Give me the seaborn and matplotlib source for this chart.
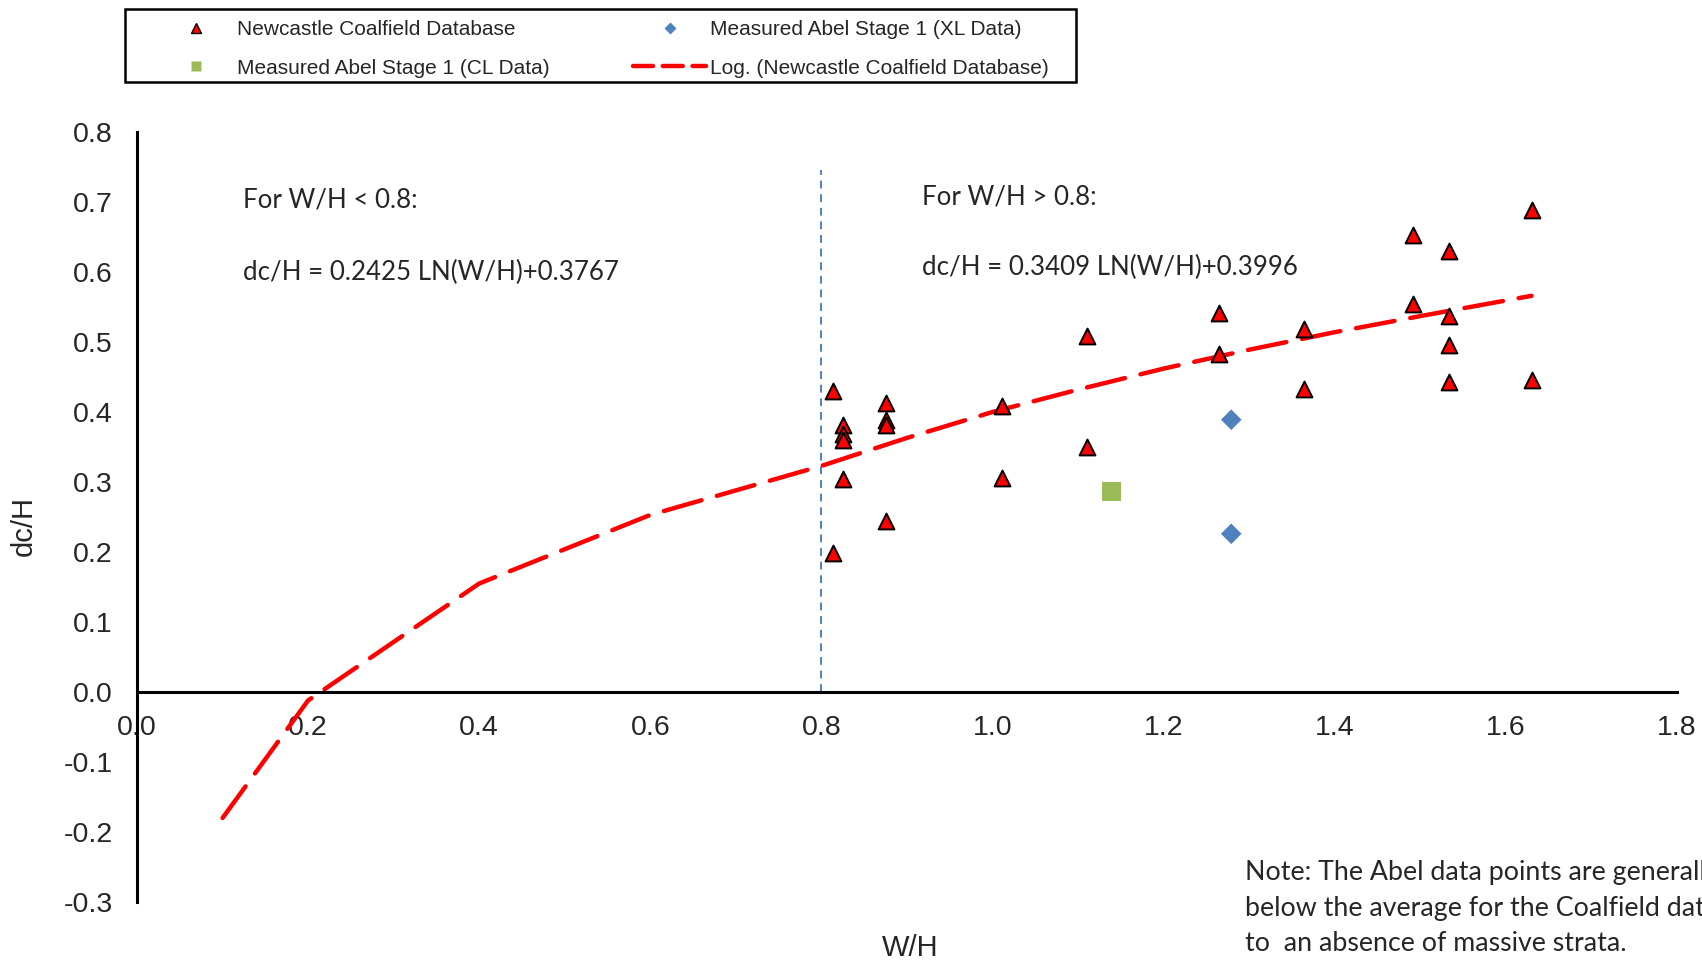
import numpy as np
import pandas as pd
import matplotlib
matplotlib.use("Agg")
import matplotlib.pyplot as plt
from matplotlib.lines import Line2D
from matplotlib.patches import Rectangle
import seaborn as sns

# Newcastle Coalfield Database (W/H, dc/H)
ncd_wh = [0.814, 0.814, 0.825, 0.825, 0.825, 0.825, 0.875, 0.875, 0.875, 0.875,
          1.011, 1.011, 1.110, 1.110, 1.265, 1.265, 1.364, 1.364,
          1.491, 1.491, 1.534, 1.534, 1.534, 1.534, 1.630, 1.630]
ncd_dch = [0.430, 0.198, 0.381, 0.368, 0.360, 0.305, 0.413, 0.388, 0.382, 0.245,
           0.409, 0.306, 0.508, 0.350, 0.542, 0.483, 0.519, 0.433,
           0.653, 0.554, 0.630, 0.537, 0.495, 0.443, 0.689, 0.446]

# Measured Abel Stage 1
xl_wh = [1.279, 1.279]
xl_dch = [0.389, 0.226]
cl_wh = [1.139]
cl_dch = [0.286]

# Log trend line as drawn on the chart
trend_wh = [0.10, 0.20, 0.40, 0.60, 0.80, 0.90, 1.00, 1.10, 1.20, 1.30, 1.40, 1.50, 1.63]
trend_dch = [-0.180, -0.012, 0.155, 0.253, 0.323, 0.363, 0.400, 0.432, 0.462, 0.489, 0.514, 0.537, 0.566]

# W/H = 0.8 divider
divider_wh = [0.8, 0.8]
divider_dch = [0.0, 0.745]

x_ticks = [0.0, 0.2, 0.4, 0.6, 0.8, 1.0, 1.2, 1.4, 1.6, 1.8]
y_ticks = [-0.3, -0.2, -0.1, 0.0, 0.1, 0.2, 0.3, 0.4, 0.5, 0.6, 0.7, 0.8]

legend_labels = ["Newcastle Coalfield Database", "Measured Abel Stage 1 (CL Data)",
                 "Measured Abel Stage 1 (XL Data)", "Log. (Newcastle Coalfield Database)"]
note_lines = ["Note: The Abel data points are generally",
              "below the average for the Coalfield data due",
              "to  an absence of massive strata."]

RED = "#FF0000"
BLUE = "#4F81BD"
GREEN = "#9BBB59"

sns.set_style("white")
plt.rcParams['font.family'] = ['Liberation Sans', 'DejaVu Sans']
plt.rcParams['axes.unicode_minus'] = False

fig = plt.figure(figsize=(17.02, 9.63), dpi=100)
ax = fig.add_axes([137 / 1702, 1 - 902 / 963, 1540 / 1702, 770 / 963])

ncd = pd.DataFrame({"wh": ncd_wh, "dch": ncd_dch})
trend = pd.DataFrame({"wh": trend_wh, "dch": trend_dch})

# divider line
ax.plot(divider_wh, divider_dch, color=BLUE, lw=1.4, dashes=(4, 3), zorder=1)

# trend line
sns.lineplot(data=trend, x="wh", y="dch", color=RED, lw=3.2, errorbar=None,
             sort=False, ax=ax, zorder=2)
tl = ax.lines[-1]
tl.set_dashes((8.8, 3.6))
tl.set_dash_capstyle("round")

# points
sns.scatterplot(data=ncd, x="wh", y="dch", marker="^", s=130, color=RED,
                edgecolor="black", linewidth=1.4, ax=ax, zorder=3)
sns.scatterplot(x=xl_wh, y=xl_dch, marker="D", s=110, color=BLUE,
                edgecolor="none", ax=ax, zorder=3)
sns.scatterplot(x=cl_wh, y=cl_dch, marker="s", s=185, color=GREEN,
                edgecolor="none", ax=ax, zorder=3)

ax.set_xlim(0, 1.8)
ax.set_ylim(-0.3, 0.8)
ax.set_xticks(x_ticks)
ax.set_yticks(y_ticks)
ax.set_xticklabels([f"{v:.1f}" for v in x_ticks])
ax.set_yticklabels([f"{v:.1f}" for v in y_ticks])
ax.tick_params(axis="x", direction="out", length=5, width=2, labelsize=20.5, pad=11.5)
ax.tick_params(axis="y", direction="out", length=6.5, width=2, labelsize=20.5, pad=11)
ax.spines["top"].set_visible(False)
ax.spines["right"].set_visible(False)
ax.spines["bottom"].set_position(("data", 0))
for s in ("left", "bottom"):
    ax.spines[s].set_linewidth(2.2)
    ax.spines[s].set_color("black")

ax.set_xlabel("W/H", fontsize=21)
ax.set_ylabel("dc/H", fontsize=21)
ax.xaxis.set_label_coords((910 - 137) / 1540, (902 - 934) / 770)
ax.yaxis.set_label_coords((38 - 137) / 1540, (902 - 526) / 770)

# equations
eq_font = dict(fontsize=18.6, family=["Lato", "DejaVu Sans"], va="baseline", ha="left")
ax.text(0.124, 0.692, "For W/H < 0.8:", **eq_font)
ax.text(0.124, 0.588, "dc/H = 0.2425 LN(W/H)+0.3767", **eq_font)
ax.text(0.9175, 0.697, "For W/H > 0.8:", **eq_font)
ax.text(0.9175, 0.595, "dc/H = 0.3409 LN(W/H)+0.3996", **eq_font)

# note (runs off the right edge, as in the original)
note_base = [880, 916, 951]
for line, yb in zip(note_lines, note_base):
    fig.text(1245 / 1702, 1 - yb / 963, line, fontsize=19.3,
             family=["Lato", "DejaVu Sans"], va="baseline", ha="left")

# legend
handles = [
    Line2D([], [], ls="none", marker="^", ms=7, mfc=RED, mec="black", mew=1),
    Line2D([], [], ls="none", marker="s", ms=7, mfc=GREEN, mec="none"),
    Line2D([], [], ls="none", marker="D", ms=6, mfc=BLUE, mec="none"),
    Line2D([], [], color=RED, lw=3.2, dashes=(4.5, 2.2), dash_capstyle="round"),
]
fig.patches.append(Rectangle((125 / 1702, 1 - 82 / 963), 951 / 1702, 73 / 963,
                             transform=fig.transFigure, fill=False,
                             edgecolor="black", lw=1.8))
fig.legend(handles, legend_labels, ncol=2, frameon=False, fontsize=15,
           loc="upper left", bbox_to_anchor=(160 / 1702, 1 - 20 / 963),
           borderpad=0, borderaxespad=0, handlelength=3.5, handletextpad=0.2,
           labelspacing=0.95, columnspacing=4.0)

fig.savefig("out.png", dpi=100)
